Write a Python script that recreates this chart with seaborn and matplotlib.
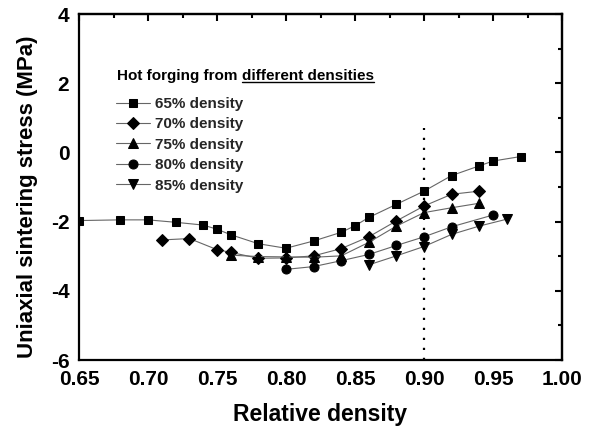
import matplotlib
matplotlib.use("Agg")
import matplotlib.pyplot as plt
import seaborn as sns
import pandas as pd
from matplotlib.lines import Line2D

sns.set_theme(style="white")
plt.rcParams['font.family'] = ['Liberation Sans', 'DejaVu Sans']
plt.rcParams['font.weight'] = 'bold'

# data
x65 = [0.65, 0.68, 0.70, 0.72, 0.74, 0.75, 0.76, 0.78, 0.80, 0.82, 0.84, 0.85, 0.86, 0.88, 0.90, 0.92, 0.94, 0.95, 0.97]
y65 = [-1.97, -1.95, -1.95, -2.02, -2.10, -2.22, -2.38, -2.64, -2.77, -2.56, -2.31, -2.12, -1.88, -1.50, -1.12, -0.67, -0.39, -0.25, -0.12]
x70 = [0.71, 0.73, 0.75, 0.76, 0.78, 0.80, 0.82, 0.84, 0.86, 0.88, 0.90, 0.92, 0.94]
y70 = [-2.53, -2.49, -2.81, -2.89, -3.06, -3.05, -2.99, -2.78, -2.44, -1.98, -1.55, -1.21, -1.12]
x75 = [0.76, 0.78, 0.80, 0.82, 0.84, 0.86, 0.88, 0.90, 0.92, 0.94]
y75 = [-2.97, -3.01, -3.02, -3.03, -2.99, -2.60, -2.13, -1.74, -1.60, -1.47]
x80 = [0.80, 0.82, 0.84, 0.86, 0.88, 0.90, 0.92, 0.95]
y80 = [-3.38, -3.30, -3.13, -2.95, -2.69, -2.44, -2.15, -1.81]
x85 = [0.86, 0.88, 0.90, 0.92, 0.94, 0.96]
y85 = [-3.25, -2.99, -2.72, -2.37, -2.13, -1.93]

labels = ["65% density", "70% density", "75% density", "80% density", "85% density"]
markers = ["s", "D", "^", "o", "v"]
xticks = [0.65, 0.70, 0.75, 0.80, 0.85, 0.90, 0.95, 1.00]
yticks = [-6, -4, -2, 0, 2, 4]

series = [(x65, y65), (x70, y70), (x75, y75), (x80, y80), (x85, y85)]

fig = plt.figure(figsize=(5.96, 4.34), dpi=100)
ax = fig.add_axes([79/596, 1-360/434, (562-79)/596, (360-14)/434])

msizes = {"s": 6, "D": 6, "^": 7, "o": 6.5, "v": 7}
for (xs, ys), lab, m in zip(series, labels, markers):
    df = pd.DataFrame({"x": xs, "y": ys})
    sns.lineplot(data=df, x="x", y="y", ax=ax, color="#666666", lw=0.8,
                 marker=m, markersize=msizes[m], markerfacecolor="black",
                 markeredgecolor="black", label=lab, sort=False, legend=False)

ax.vlines(0.90, -6, 0.7, colors="black", linestyles=(0, (1, 3.5)), lw=1.6)

ax.set_xlim(0.65, 1.00)
ax.set_ylim(-6, 4)
ax.set_xticks(xticks)
ax.set_xticklabels([f"{v:.2f}" for v in xticks])
ax.set_yticks(yticks)
ax.set_yticklabels([str(v) for v in yticks])
ax.set_xticks([v + 0.025 for v in xticks[:-1]], minor=True)
ax.set_yticks([v + 1 for v in yticks[:-1]], minor=True)
ax.tick_params(axis='both', which='major', direction='out', length=5, width=1.5,
               labelsize=15, pad=2, colors='black')
ax.tick_params(axis='both', which='minor', direction='out', length=3, width=1.5, colors='black')
for lab in ax.get_xticklabels() + ax.get_yticklabels():
    lab.set_fontweight('bold')
for s in ax.spines.values():
    s.set_linewidth(1.6)
    s.set_color('black')

sx = ax.secondary_xaxis('top')
sx.set_xticks(xticks)
sx.set_xticks([v + 0.025 for v in xticks[:-1]], minor=True)
sx.tick_params(which='major', direction='in', length=5, width=1.5, labeltop=False, colors='black')
sx.tick_params(which='minor', direction='in', length=3, width=1.5, colors='black')
sx.spines['top'].set_linewidth(1.6)
sy = ax.secondary_yaxis('right')
sy.set_yticks(yticks)
sy.set_yticks([v + 1 for v in yticks[:-1]], minor=True)
sy.tick_params(which='major', direction='in', length=5, width=1.5, labelright=False, colors='black')
sy.tick_params(which='minor', direction='in', length=3, width=1.5, colors='black')
sy.spines['right'].set_linewidth(1.6)

ax.set_xlabel("Relative density", fontsize=16.5, fontweight='bold', labelpad=10, color='black')
ax.set_ylabel("Uniaxial sintering stress (MPa)", fontsize=16, fontweight='bold', color='black')
ax.yaxis.set_label_coords(-0.084, 0.471)

leg = ax.legend(loc='upper left', bbox_to_anchor=(116/596, 1-97/434),
                bbox_transform=fig.transFigure, frameon=False,
                handlelength=2.2, handletextpad=0.33, labelspacing=0.42,
                borderpad=0, borderaxespad=0, prop={'weight': 'bold', 'size': 11})

t1 = fig.text(117/596, 1-76/434, "Hot forging from ", fontsize=11, fontweight='bold',
              ha='left', va='center', color='black')
t2 = fig.text(0, 0, "different densities", fontsize=11, fontweight='bold', color='black')
fig.canvas.draw()
b1 = t1.get_window_extent()
t2.set_position(((b1.x1) / fig.bbox.width, b1.y0 / fig.bbox.height))
t2.set_va('bottom')
fig.canvas.draw()
b2 = t2.get_window_extent()
uy = (b2.y0 + 1.5) / fig.bbox.height
fig.add_artist(Line2D([b2.x0 / fig.bbox.width, b2.x1 / fig.bbox.width], [uy, uy],
                      transform=fig.transFigure, color='black', lw=1.0))

fig.savefig("out.png", dpi=100)
